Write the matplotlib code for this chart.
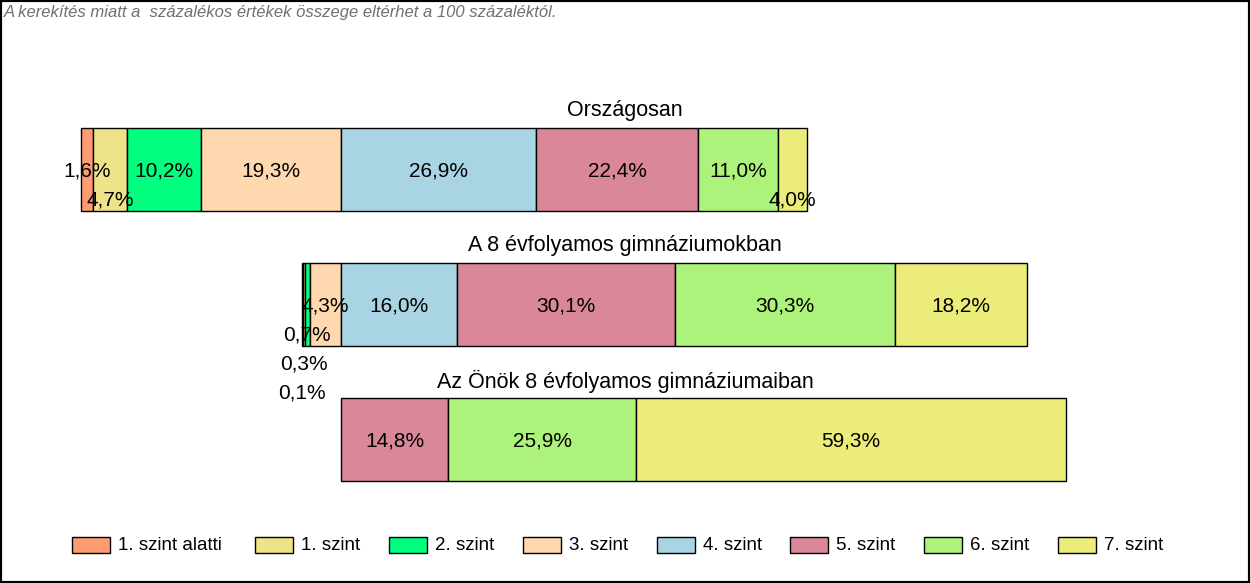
import numpy as np
import matplotlib.pyplot as plt
from matplotlib.patches import Rectangle

plt.rcParams['font.family'] = ['Liberation Sans', 'DejaVu Sans']

categories = ['Országosan', 'A 8 évfolyamos gimnáziumokban', 'Az Önök 8 évfolyamos gimnáziumaiban']
levels = ['1. szint alatti', '1. szint', '2. szint', '3. szint',
          '4. szint', '5. szint', '6. szint', '7. szint']
orszagos = [1.6, 4.7, 10.2, 19.3, 26.9, 22.4, 11.0, 4.0]
gimnaziumok = [0.1, 0.3, 0.7, 4.3, 16.0, 30.1, 30.3, 18.2]
onok = [0.0, 0.0, 0.0, 0.0, 0.0, 14.8, 25.9, 59.3]
note = 'A kerekítés miatt a  százalékos értékek összege eltérhet a 100 százaléktól.'

colors = ['#FF9B71', '#EFE38A', '#00FF7F', '#FFD8B0',
          '#A8D4E4', '#D98799', '#ADF27A', '#ECEC7A']
# label stacking (0 = bar centre, n = n steps lower) so small segments stay readable
label_level = [[0, 1, 0, 0, 0, 0, 0, 1],
               [3, 2, 1, 0, 0, 0, 0, 0],
               [0, 0, 0, 0, 0, 0, 0, 0]]

W, H = 1250, 583
fig = plt.figure(figsize=(W / 100, H / 100), dpi=100)
ax = fig.add_axes([0, 0, 1, 1])
ax.axis('off')

pxpct = 7.25      # pixels per percent
x0 = 341          # pixel where 3./4. szint boundary sits
ax.set_xlim(-x0 / pxpct, (W - x0) / pxpct)
step = 135.0
yc0 = 169.5
ax.set_ylim((H - yc0) / step, -yc0 / step)
bar_h = 83 / step

data = [orszagos, gimnaziumok, onok]
for i, vals in enumerate(data):
    vals = np.array(vals)
    left = -vals[:4].sum()
    starts = left + np.concatenate([[0], np.cumsum(vals)[:-1]])
    for j, (s, v) in enumerate(zip(starts, vals)):
        if v <= 0:
            continue
        ax.barh(i, v, left=s, height=bar_h, color=colors[j],
                edgecolor='black', linewidth=1)
        ty = i + (label_level[i][j] * 29 + 1.5) / step
        ax.text(s + v / 2, ty, f'{v:.1f}%'.replace('.', ','),
                ha='center', va='center', fontsize=15)
    ax.text(0.5, i - bar_h / 2 - 17 / step, categories[i],
            transform=ax.get_yaxis_transform(), ha='center', va='center',
            fontsize=15.5)

# legend, entries placed like the original report
leg_x = [72, 255, 389, 523, 657, 790, 924, 1058]
for k, lab in enumerate(levels):
    lx = leg_x[k]
    fig.patches.append(Rectangle((lx / W, 1 - 553 / H), 38 / W, 16 / H,
                                 transform=fig.transFigure, facecolor=colors[k],
                                 edgecolor='black', linewidth=1))
    fig.text((lx + 46) / W, 1 - 545 / H, lab, ha='left', va='center', fontsize=13.5)

fig.text(4 / W, 1 - 13 / H, note, ha='left', va='center', fontsize=12,
         style='italic', color='#707070')

fig.patches.append(Rectangle((0, 0), 1, 1, transform=fig.transFigure,
                             fill=False, edgecolor='black', linewidth=3))

fig.savefig('out.png', dpi=100)
